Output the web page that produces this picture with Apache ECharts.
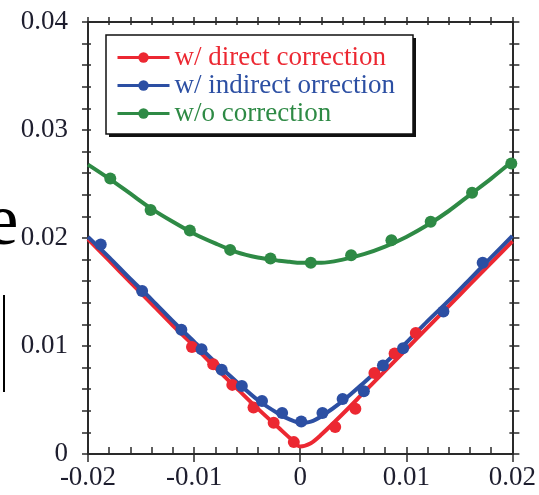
<!DOCTYPE html>
<html>
<head>
<meta charset="utf-8">
<script src="https://cdn.jsdelivr.net/npm/echarts@6/dist/echarts.min.js"></script>
<style>html,body{margin:0;padding:0;background:#fff}#c{width:539px;height:495px}</style>
</head>
<body>
<div id="c"></div>
<script>
// ---- data ----
const seriesNames = ['w/ direct correction', 'w/ indirect orrection', 'w/o correction'];
const xRange = [-0.02, 0.02];
const yRange = [0, 0.04];

// fitted curves
const lineX      = [-0.020,-0.018,-0.016,-0.014,-0.012,-0.010,-0.008,-0.006,-0.004,-0.002,-0.001,0.000,0.001,0.002,0.004,0.006,0.008,0.010,0.012,0.014,0.016,0.018,0.020];
const redLineY   = [0.0199,0.0179,0.0159,0.0139,0.0119,0.0100,0.0080,0.0061,0.0042,0.0024,0.0015,0.0007,0.0010,0.0018,0.0037,0.0057,0.0077,0.0097,0.0117,0.0137,0.0157,0.0177,0.0197];
const blueLineY  = [0.0201,0.0182,0.0162,0.0143,0.0123,0.0104,0.0085,0.0067,0.0050,0.0037,0.0032,0.0029,0.0030,0.0035,0.0049,0.0066,0.0084,0.0103,0.0123,0.0142,0.0162,0.0182,0.0202];
const greenLineY = [0.0268,0.0255,0.0241,0.0227,0.0215,0.0204,0.0195,0.0187,0.0182,0.0179,0.0178,0.0177,0.0177,0.0177,0.0180,0.0185,0.0192,0.0201,0.0212,0.0225,0.0240,0.0255,0.0271];

// measured points
const redPtsX   = [-0.0102,-0.0082,-0.0064,-0.0044,-0.0025,-0.0006,0.0033,0.0052,0.0070,0.0089,0.0109];
const redPtsY   = [0.0099,0.0083,0.0064,0.0043,0.0029,0.0011,0.0025,0.0042,0.0075,0.0093,0.0112];
const bluePtsX  = [-0.0188,-0.0149,-0.0112,-0.0093,-0.0074,-0.0055,-0.0036,-0.0017,0.0001,0.0021,0.0040,0.0060,0.0078,0.0097,0.0135,0.0172];
const bluePtsY  = [0.0194,0.0151,0.0115,0.0097,0.0078,0.0063,0.0049,0.0038,0.0030,0.0038,0.0051,0.0058,0.0082,0.0098,0.0132,0.0177];
const greenPtsX = [-0.0179,-0.0141,-0.0104,-0.0066,-0.0028,0.0010,0.0048,0.0086,0.0123,0.0162,0.0199];
const greenPtsY = [0.0255,0.0226,0.0207,0.0189,0.0181,0.0177,0.0184,0.0198,0.0215,0.0242,0.0269];

// ---- styling ----
const RED = '#ec2832', BLUE = '#2c4fa3', GREEN = '#2e8a45';
const AX = '#2a2a2a';
const FONT = '"Liberation Serif", "Times New Roman", serif';

const zip = (xs, ys) => xs.map((x, i) => [x, ys[i]]);

function xAx(pos, inside, len, minor, labels) {
  return {
    type: 'value', position: pos, min: xRange[0], max: xRange[1], interval: 0.01,
    axisLine: { show: true, onZero: false, lineStyle: { color: AX, width: 2 } },
    axisTick: { show: true, inside: inside, length: len, lineStyle: { color: AX, width: 1.5 } },
    minorTick: { show: minor, splitNumber: 5, length: len, lineStyle: { color: AX, width: 1.5 } },
    splitLine: { show: false }, minorSplitLine: { show: false },
    axisLabel: labels ? { show: true, margin: 10, fontFamily: FONT, fontSize: 27, color: '#1e1e2e' } : { show: false }
  };
}
function yAx(pos, inside, len, minor, labels) {
  return {
    type: 'value', position: pos, min: yRange[0], max: yRange[1], interval: 0.01,
    axisLine: { show: true, onZero: false, lineStyle: { color: AX, width: 2 } },
    axisTick: { show: true, inside: inside, length: len, lineStyle: { color: AX, width: 1.5 } },
    minorTick: { show: minor, splitNumber: 5, length: len, lineStyle: { color: AX, width: 1.5 } },
    splitLine: { show: false }, minorSplitLine: { show: false },
    axisLabel: labels ? { show: true, margin: 20, fontFamily: FONT, fontSize: 27, color: '#1e1e2e' } : { show: false }
  };
}

const chart = echarts.init(document.getElementById('c'), null, { renderer: 'canvas' });

function lineSeries(name, ys, color) {
  return {
    name: name, type: 'line', xAxisIndex: 0, yAxisIndex: 0,
    data: zip(lineX, ys), smooth: 0.3, symbol: 'circle', showSymbol: false,
    lineStyle: { color: color, width: 4 }, itemStyle: { color: color },
    silent: true, animation: false, z: 3
  };
}
function ptSeries(name, xs, ys, color) {
  return {
    name: name, type: 'scatter', xAxisIndex: 0, yAxisIndex: 0,
    data: zip(xs, ys), symbol: 'circle', symbolSize: 12,
    itemStyle: { color: color, opacity: 1 }, animation: false, z: 4
  };
}

chart.setOption({
  animation: false,
  grid: { left: 88, right: 21, top: 22, bottom: 41, containLabel: false },
  xAxis: [
    xAx('bottom', false, 8, false, true),
    xAx('bottom', true, 7, true, false),
    xAx('top', true, 3, true, false),
    xAx('top', false, 5, true, false)
  ],
  yAxis: [
    yAx('left', false, 6, true, true),
    yAx('left', true, 3, true, false),
    yAx('right', true, 3, true, false),
    yAx('right', false, 7, true, false)
  ],
  legend: {
    orient: 'vertical', left: 116, top: 44, padding: 0, itemGap: 1,
    itemWidth: 52, itemHeight: 13,
    lineStyle: { width: 3 },
    selectedMode: false,
    textStyle: { fontFamily: FONT, fontSize: 27 },
    data: [
      { name: seriesNames[0], textStyle: { color: RED } },
      { name: seriesNames[1], textStyle: { color: BLUE } },
      { name: seriesNames[2], textStyle: { color: GREEN } }
    ],
    z: 10
  },
  graphic: [
    { type: 'rect', z: 5, shape: { x: 109, y: 38, width: 307, height: 99 }, style: { fill: '#111' } },
    { type: 'rect', z: 6, shape: { x: 106, y: 35, width: 307, height: 99 }, style: { fill: '#fff', stroke: '#111', lineWidth: 1.5 } },
    { type: 'text', z: 6, style: { text: 'e', x: -14, y: 188, font: '73px "Liberation Serif"', fill: '#000' } },
    { type: 'line', z: 6, shape: { x1: 4, y1: 295, x2: 4, y2: 392 }, style: { stroke: '#000', lineWidth: 2 } }
  ],
  series: [
    lineSeries(seriesNames[0], redLineY, RED),
    lineSeries(seriesNames[1], blueLineY, BLUE),
    lineSeries(seriesNames[2], greenLineY, GREEN),
    ptSeries('direct points', redPtsX, redPtsY, RED),
    ptSeries('indirect points', bluePtsX, bluePtsY, BLUE),
    ptSeries('no correction points', greenPtsX, greenPtsY, GREEN)
  ]
});
</script>
</body>
</html>
